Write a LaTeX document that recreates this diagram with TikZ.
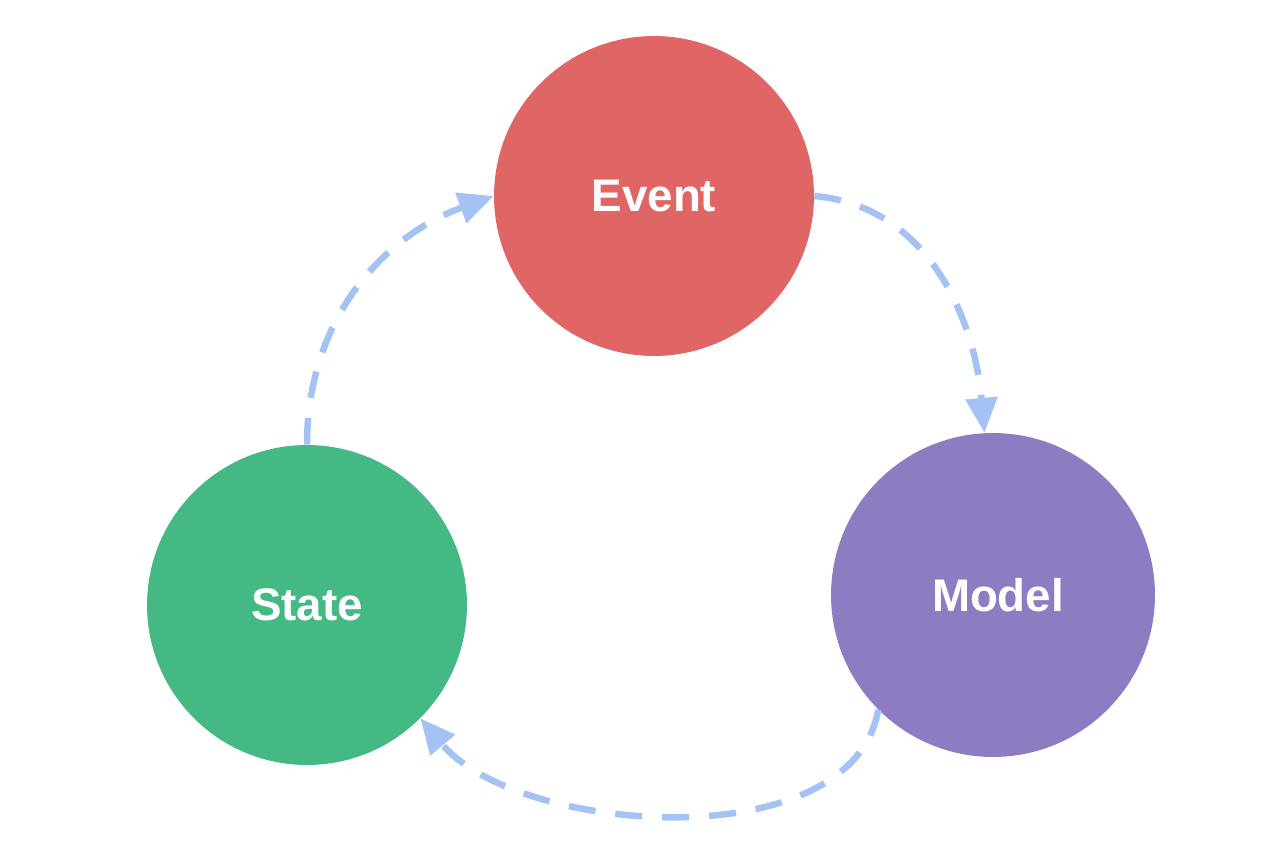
\documentclass[tikz,border=0pt]{standalone}
\usepackage{fontspec}
\setmainfont{Liberation Sans}
\usetikzlibrary{arrows.meta}
\definecolor{eventred}{HTML}{E06666}
\definecolor{stategreen}{HTML}{44B983}
\definecolor{modelpurple}{HTML}{8E7CC3}
\definecolor{flowblue}{HTML}{A4C2F4}

\begin{document}
\begin{tikzpicture}[x=0.02cm, y=0.02cm,
  stage/.style={circle, minimum size=6.4cm, inner sep=0pt, text=white,
    font=\bfseries\fontsize{26}{30}\selectfont},
  flow/.style={draw=flowblue, line width=0.13cm, dash pattern=on 0.54cm off 0.4cm,
    -{Triangle[length=0.7cm, width=0.62cm]}}]
  \useasboundingbox (0,0) rectangle (1280,866);

  \node[stage, fill=eventred] (event) at (654,670) {Event};
  \node[stage, fill=stategreen] (state) at (307,261) {State};
  \node[stage, fill=modelpurple, minimum size=6.48cm] (model) at (993,271) {\hspace*{0.2cm}Model};

  \draw[flow] (state.north) to[out=90, in=200] (event.west);
  \draw[flow] (event.east) to[out=-5, in=95] (model.93);
  \draw[flow] (model.225) to[out=-100, in=-50, looseness=0.85] (state.-45);
\end{tikzpicture}
\end{document}
